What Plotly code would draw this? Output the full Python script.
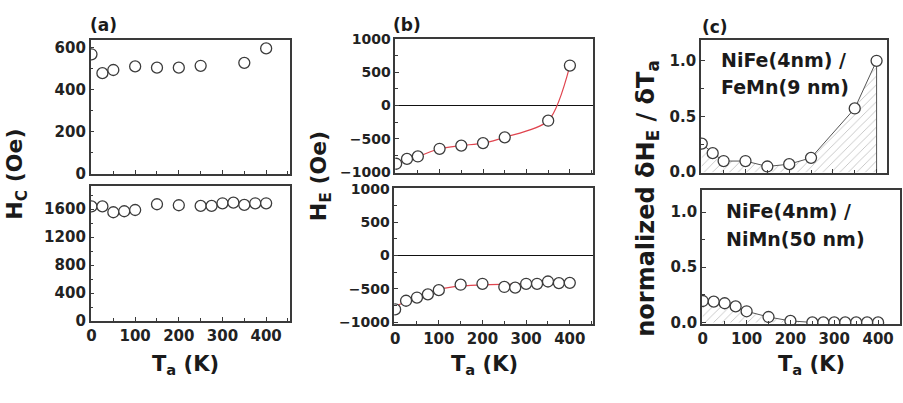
import plotly.graph_objects as go

W, H = 903, 403

# ---------------- data ----------------
# annealing temperatures
ta_top = [0, 25, 50, 100, 150, 200, 250, 350, 400]
ta_bot = [0, 25, 50, 75, 100, 150, 200, 250, 275, 300, 325, 350, 375, 400]

# (a) coercivity H_C (Oe)
hc_top = [570, 480, 495, 512, 506, 506, 515, 529, 598]
hc_bot = [1640, 1640, 1557, 1571, 1589, 1671, 1657, 1648, 1648, 1685, 1694, 1662, 1685, 1685]

# (b) exchange bias H_E (Oe)
he_top = [-875, -803, -766, -651, -603, -565, -479, -230, 597]
he_bot = [-809, -679, -631, -583, -520, -438, -424, -472, -482, -424, -424, -390, -414, -410]
fit_bot_t = [0, 25, 50, 75, 100, 125, 150, 200, 250, 300, 350, 400]
fit_bot_y = [-762, -695, -626, -565, -510, -478, -460, -440, -432, -428, -424, -420]

# (c) normalized dH_E/dT_a
dh_top = [0.257, 0.171, 0.10, 0.10, 0.051, 0.072, 0.129, 0.572, 1.0]
dh_bot = [0.194, 0.188, 0.174, 0.145, 0.101, 0.049, 0.014, 0, 0, 0, 0, 0, 0, 0]

# ---------------- styling ----------------
FONT = "DejaVu Sans"
FRAME = "#3a3a3a"
MK = "#3c3c3c"
RED = "#e0454f"


def dx(a, b):
    return [a / W, b / W]


def dy(top, bottom):
    return [1 - bottom / H, 1 - top / H]


def axis(domain, rng, dtick, minor, anchor, labels=True, size=15, zl=False):
    return dict(
        domain=domain, range=rng, anchor=anchor,
        showline=True, mirror=True, linecolor=FRAME, linewidth=1.5,
        ticks="inside", ticklen=4, tickwidth=1, tickcolor=FRAME,
        tickmode="linear", tick0=0, dtick=dtick,
        minor=dict(ticks="inside", ticklen=3, tickwidth=1, tickcolor=FRAME, dtick=minor),
        showgrid=False, zeroline=zl, zerolinecolor="#111", zerolinewidth=1.3,
        showticklabels=labels,
        tickfont=dict(family=FONT, size=size, color="#222", weight="bold"),
    )


fig = go.Figure()

marker = dict(symbol="circle", size=11, color="white", line=dict(color=MK, width=1.3))

# (a)
fig.add_trace(go.Scatter(x=ta_top, y=hc_top, mode="markers", marker=marker, xaxis="x", yaxis="y"))
fig.add_trace(go.Scatter(x=ta_bot, y=hc_bot, mode="markers", marker=marker, xaxis="x2", yaxis="y2"))

# (b)
fig.add_trace(go.Scatter(x=ta_top, y=he_top, mode="lines", line=dict(color=RED, width=1.2, shape="spline", smoothing=0.8),
                         xaxis="x3", yaxis="y3"))
fig.add_trace(go.Scatter(x=ta_top, y=he_top, mode="markers", marker=marker, xaxis="x3", yaxis="y3"))
fig.add_trace(go.Scatter(x=fit_bot_t, y=fit_bot_y, mode="lines", line=dict(color=RED, width=1.2, shape="spline"),
                         xaxis="x4", yaxis="y4"))
fig.add_trace(go.Scatter(x=ta_bot, y=he_bot, mode="markers", marker=marker, xaxis="x4", yaxis="y4"))

# (c)
pattern = dict(shape="/", fgcolor="#8a8a8a", bgcolor="white", size=6, solidity=0.15)
fig.add_trace(go.Scatter(x=ta_top, y=dh_top, mode="lines", line=dict(color="#555", width=1),
                         fill="tozeroy", fillcolor="white", fillpattern=pattern, xaxis="x5", yaxis="y5"))
fig.add_trace(go.Scatter(x=[ta_top[-1], ta_top[-1]], y=[0, dh_top[-1]], mode="lines",
                         line=dict(color="#555", width=1), xaxis="x5", yaxis="y5"))
fig.add_trace(go.Scatter(x=ta_top, y=dh_top, mode="markers", marker=marker, xaxis="x5", yaxis="y5"))
fig.add_trace(go.Scatter(x=ta_bot, y=dh_bot, mode="lines", line=dict(color="#555", width=1),
                         fill="tozeroy", fillcolor="white", fillpattern=pattern, xaxis="x6", yaxis="y6"))
fig.add_trace(go.Scatter(x=ta_bot, y=dh_bot, mode="markers", marker=marker, xaxis="x6", yaxis="y6"))

layout = dict(
    width=W, height=H, margin=dict(l=0, r=0, t=0, b=0),
    paper_bgcolor="white", plot_bgcolor="white", showlegend=False,
    xaxis=axis(dx(87, 287), [-2, 454], 100, 50, "y", labels=False),
    yaxis=axis(dy(33, 173), [0, 640], 200, 100, "x"),
    xaxis2=axis(dx(87, 287), [-2, 454], 100, 50, "y2"),
    yaxis2=axis(dy(186, 327), [0, 1930], 400, 200, "x2"),
    xaxis3=axis(dx(393, 592), [-2, 454], 100, 50, "y3", labels=False),
    yaxis3=axis(dy(32, 172), [-1010, 1000], 500, 250, "x3", size=14, zl=True),
    xaxis4=axis(dx(392, 592), [-2, 454], 100, 50, "y4"),
    yaxis4=axis(dy(188, 330), [-1030, 1015], 500, 250, "x4", size=14, zl=True),
    xaxis5=axis(dx(700, 887), [-2, 424], 100, 50, "y5", labels=False),
    yaxis5=axis(dy(33, 172), [-0.005, 1.19], 0.5, 0.25, "x5"),
    xaxis6=axis(dx(701, 900), [-2, 450], 100, 50, "y6"),
    yaxis6=axis(dy(190, 330), [-0.015, 1.2], 0.5, 0.25, "x6"),
)
fig.update_layout(**layout)
fig.update_yaxes(tickformat=".1f", selector=dict(dtick=0.5))


def ann(text, x, y, size, angle=0, xanchor="center"):
    fig.add_annotation(text=text, x=x / W, y=1 - y / H, xref="paper", yref="paper",
                       showarrow=False, textangle=angle, xanchor=xanchor, yanchor="middle",
                       font=dict(family=FONT, size=size, color="#1a1a1a", weight="bold"))


ann("H<sub>C</sub> (Oe)", 13, 173, 22, -90)
ann("H<sub>E</sub> (Oe)", 318, 176, 22, -90)
ann("normalized δH<sub>E</sub> / δT<sub>a</sub>", 646, 199, 24, -90)
for cx in (182, 483, 811):
    ann("T<sub>a</sub> (K)", cx, 373, 21)
ann("(a)", 100, 18, 17)
ann("(b)", 405, 18, 17)
ann("(c)", 714, 20, 17)
ann("NiFe(4nm) /", 718, 54, 19, xanchor="left")
ann("FeMn(9 nm)", 718, 83, 19, xanchor="left")
ann("NiFe(4nm) /", 723, 212, 19, xanchor="left")
ann("NiMn(50 nm)", 723, 241, 19, xanchor="left")

fig.write_html("out.html")
